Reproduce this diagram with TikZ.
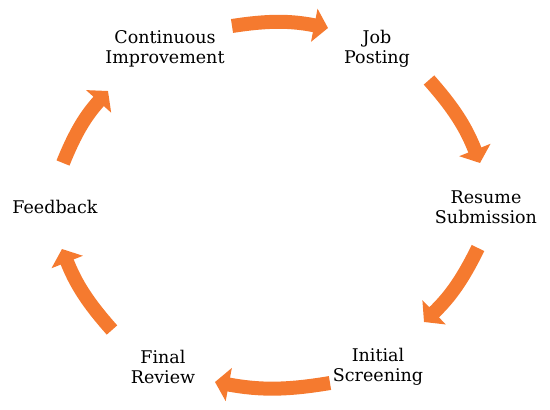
\documentclass[tikz,border=0pt]{standalone}
\usepackage{fontspec}
\setmainfont{DejaVu Serif}
\usepackage{xcolor}
\usetikzlibrary{arrows.meta}
\usetikzlibrary{positioning}
\definecolor{cycorange}{RGB}{245,122,47}

\begin{document}
\begin{tikzpicture}[x=1pt,y=-1pt,
  stage/.style={align=center,font=\fontsize{17.5}{20}\selectfont},
  cyc/.style={draw=cycorange,line width=14pt,-{Triangle[width=33pt,length=14pt]},bend left=10}]
  \useasboundingbox (0,0) rectangle (550,410);
  % stages
  \node[stage] (cont)   at (165,49)  {Continuous\\Improvement};
  \node[stage] (job)    at (377,49)  {Job\\Posting};
  \node[stage] (resume) at (486,207) {Resume\\Submission};
  \node[stage] (init)   at (378,367) {Initial\\Screening};
  \node[stage] (final)  at (163,367) {Final\\Review};
  \node[stage] (feed)   at (55,207)  {Feedback};
  % arrow ends
  \coordinate (a1s) at (232,26);  \coordinate (a1e) at (328,28);
  \coordinate (a2s) at (429,80);  \coordinate (a2e) at (480,163);
  \coordinate (a3s) at (478,248); \coordinate (a3e) at (424,322);
  \coordinate (a4s) at (330,383); \coordinate (a4e) at (215,382);
  \coordinate (a5s) at (112,330); \coordinate (a5e) at (62,249);
  \coordinate (a6s) at (63,163);  \coordinate (a6e) at (108,91);
  \draw[cyc] (a1s) to (a1e);
  \draw[cyc] (a2s) to (a2e);
  \draw[cyc] (a3s) to (a3e);
  \draw[cyc] (a4s) to (a4e);
  \draw[cyc] (a5s) to (a5e);
  \draw[cyc] (a6s) to (a6e);
\end{tikzpicture}
\end{document}
